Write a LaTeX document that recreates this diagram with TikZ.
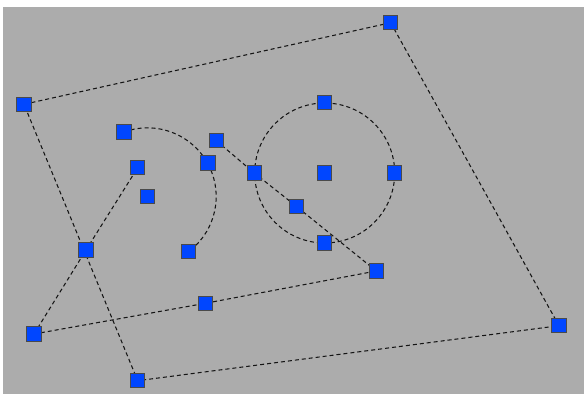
\documentclass[tikz,border=0pt]{standalone}
\definecolor{bggray}{RGB}{172,172,172}
\definecolor{sqblue}{RGB}{0,70,255}
\definecolor{sqedge}{RGB}{74,74,74}
\definecolor{dashcol}{RGB}{20,20,20}
\begin{document}
\begin{tikzpicture}[x=1pt,y=1pt,
  sq/.style={rectangle,draw=sqedge,line width=1pt,fill=sqblue,minimum size=14.5pt,inner sep=0pt},
  dl/.style={draw=dashcol,line width=1.05pt,dash pattern=on 4pt off 3pt}]
\useasboundingbox (0,0) rectangle (584,394);
\fill[white] (0,0) rectangle (584,394);
\fill[bggray] (2.7,0) rectangle (584,387);
% coordinates
\coordinate (pA) at (390.7,371.3);
\coordinate (pB) at (24,289.7);
\coordinate (pC) at (559,68.3);
\coordinate (pD) at (137.7,13.3);
\coordinate (pE) at (86,144);
\coordinate (pF) at (34,60);
\coordinate (pG) at (205.3,90.7);
\coordinate (pH) at (376.3,123);
\coordinate (pCt) at (324.7,291.3);
\coordinate (pCl) at (254.3,221);
\coordinate (pCc) at (324.7,221);
\coordinate (pCr) at (394.7,221);
\coordinate (pCb) at (324.7,151);
\coordinate (pM) at (296.3,187.7);
\coordinate (pS1) at (124,262);
\coordinate (pP) at (216.3,253.3);
\coordinate (pQ) at (208,231);
\coordinate (pR) at (137.7,226.3);
\coordinate (pSc) at (147.7,197.3);
\coordinate (pS2) at (188.3,142.7);
% connectors
\path[dl] (pA) -- (pB) -- (pD) -- (pC) -- cycle;
\path[dl] (pF) -- (pG) -- (pH);
\path[dl] (pF) -- (pE) -- (pR);
\path[dl] (pP) -- (pCl) -- (pM) -- (pH);
\path[dl] (pCc) circle[radius=70pt];
\path[dl] (pS1) arc[start angle=110,end angle=-53.4,radius=68.7pt];
% nodes
\foreach \n in {A,B,C,D,E,F,G,H,Ct,Cl,Cc,Cr,Cb,M,S1,P,Q,R,Sc,S2}{
  \node[sq] (\n) at (p\n) {};
}
\end{tikzpicture}
\end{document}
